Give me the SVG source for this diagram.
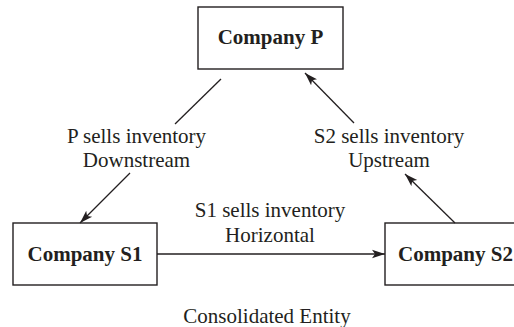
<svg xmlns="http://www.w3.org/2000/svg" width="514" height="327" viewBox="0 0 514 327">
<defs>
<style>
.box{fill:#fff;stroke:#231f20;stroke-width:1.4}
.bt{font-family:"Liberation Serif","Times New Roman",serif;font-weight:bold;font-size:21px;fill:#231f20}
.lt{font-family:"Liberation Serif","Times New Roman",serif;font-size:21px;fill:#231f20;text-anchor:middle}
.ln{fill:none;stroke:#231f20;stroke-width:1.3}
</style>
<marker id="ah" markerUnits="userSpaceOnUse" markerWidth="14" markerHeight="10" viewBox="0 0 14 10" refX="13" refY="5" orient="auto">
<path d="M0,0.8 L13,5 L0,9.2 L3,5 Z" fill="#231f20"/>
</marker>
</defs>
<rect width="514" height="327" fill="#fff"/>
<g id="companyP">
<rect class="box" x="198" y="7" width="145" height="62"/>
<text class="bt" x="270.5" y="44" text-anchor="middle">Company P</text>
</g>
<g id="companyS1">
<rect class="box" x="13" y="223" width="144" height="62"/>
<text class="bt" x="85" y="261" text-anchor="middle">Company S1</text>
</g>
<g id="companyS2">
<rect class="box" x="385" y="223" width="145" height="62"/>
<text class="bt" x="398" y="261">Company S2</text>
</g>
<g id="connectors">
<line class="ln" x1="221" y1="79" x2="175" y2="124"/>
<line class="ln" x1="130" y1="173" x2="80" y2="223" marker-end="url(#ah)"/>
<line class="ln" x1="354" y1="123" x2="305" y2="73" marker-end="url(#ah)"/>
<line class="ln" x1="455" y1="223" x2="405" y2="174" marker-end="url(#ah)"/>
<line class="ln" x1="157" y1="254" x2="385" y2="254" marker-end="url(#ah)"/>
</g>
<g id="labels">
<text class="lt" x="136.5" y="143">P sells inventory</text>
<text class="lt" x="136.5" y="167">Downstream</text>
<text class="lt" x="389" y="143">S2 sells inventory</text>
<text class="lt" x="389" y="167">Upstream</text>
<text class="lt" x="270" y="217">S1 sells inventory</text>
<text class="lt" x="270" y="242">Horizontal</text>
<text class="lt" x="267" y="323">Consolidated Entity</text>
</g>
</svg>
